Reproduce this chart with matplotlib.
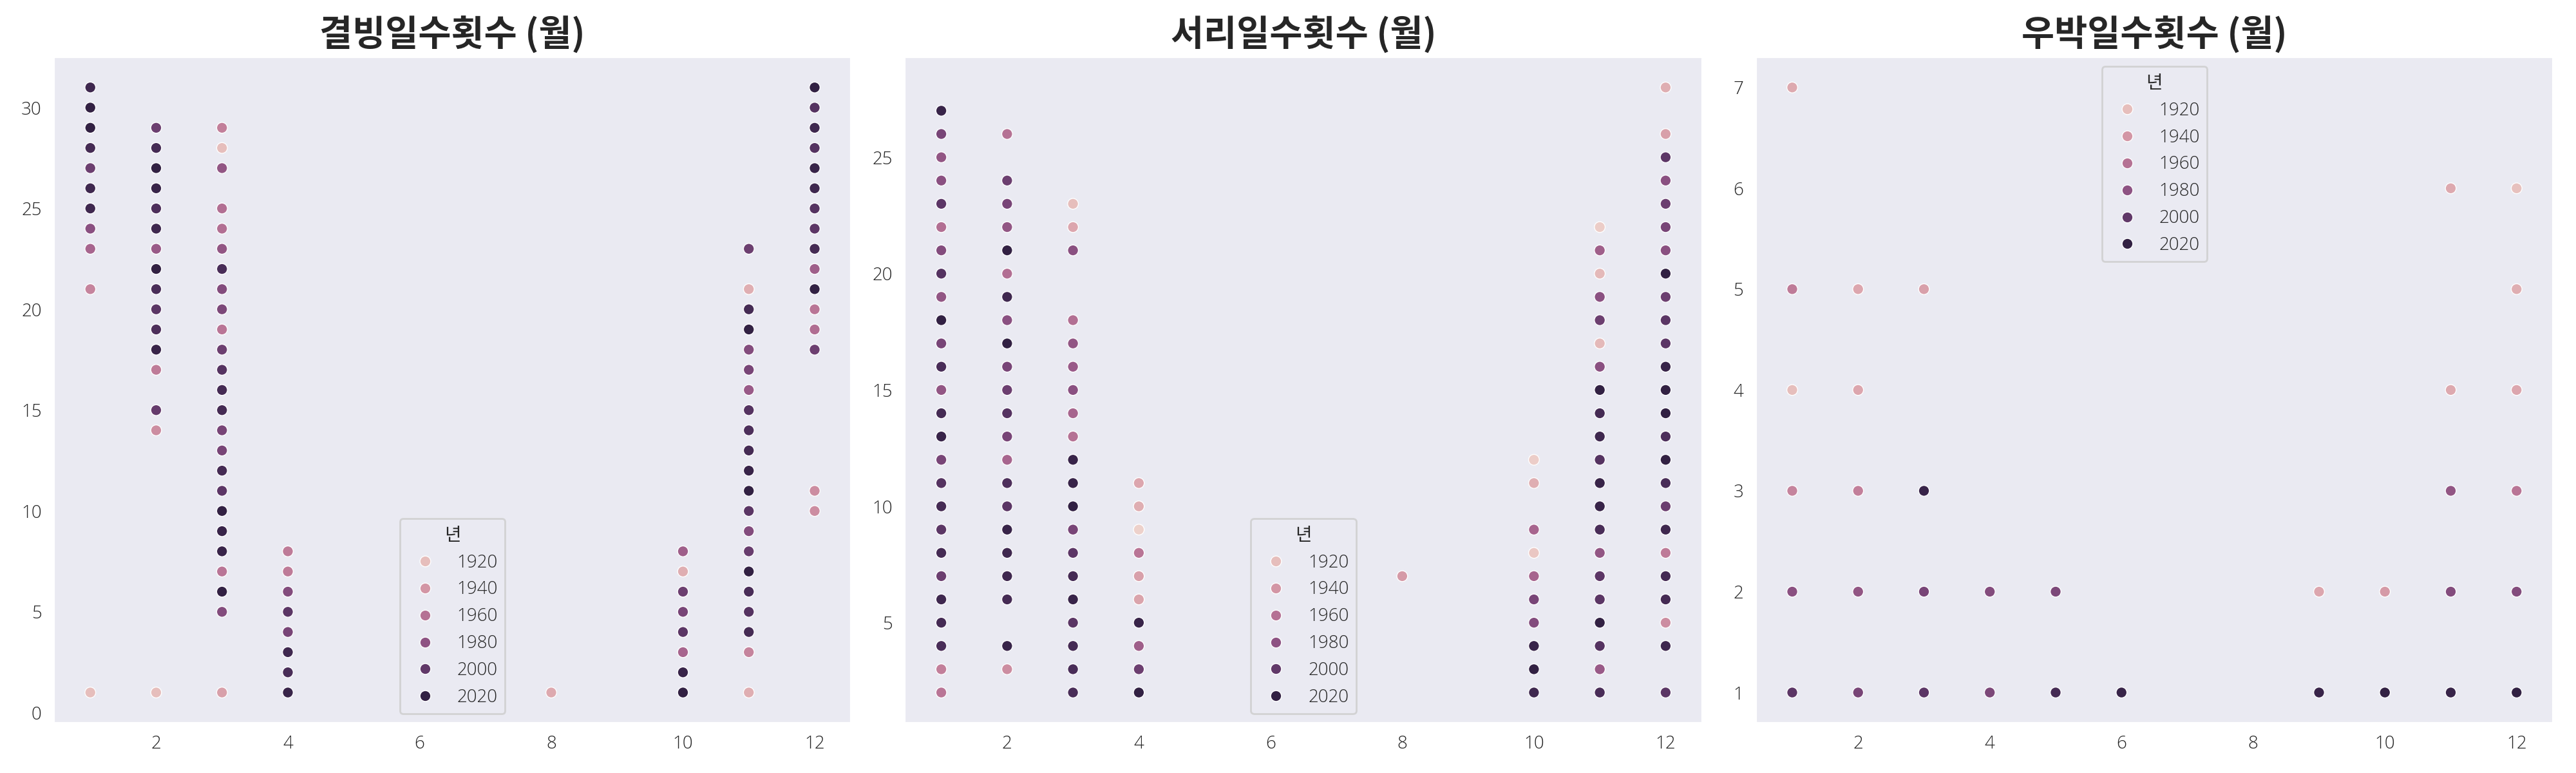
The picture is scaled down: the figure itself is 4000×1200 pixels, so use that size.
import matplotlib
matplotlib.use("Agg")
import matplotlib.pyplot as plt
import seaborn as sns
import pandas as pd

# ---------------- data ----------------
titles = ["결빙일수횟수 (월)", "서리일수횟수 (월)", "우박일수횟수 (월)"]

# Panel 1: 결빙
ice_month = ([1]*11 + [2]*16 + [3]*25 + [4]*8 + [8] + [10]*8 + [11]*21 + [12]*16)
ice_value = ([31, 30, 29, 28, 27, 26, 25, 24, 23, 21, 1] +
             [29, 28, 27, 26, 25, 24, 23, 22, 21, 20, 19, 18, 17, 15, 14, 1] +
             [29, 28, 27, 25, 24, 23, 22, 21, 20, 19, 18, 17, 16, 15, 14, 13, 12, 11, 10, 9, 8, 7, 6, 5, 1] +
             [8, 7, 6, 5, 4, 3, 2, 1] +
             [1] +
             [8, 7, 6, 5, 4, 3, 2, 1] +
             [23, 21, 20, 19, 18, 17, 16, 15, 14, 13, 12, 11, 10, 9, 8, 7, 6, 5, 4, 3, 1] +
             [31, 30, 29, 28, 27, 26, 25, 24, 23, 22, 21, 20, 19, 18, 11, 10])
ice_year = ([2015, 2020, 2020, 2012, 1995, 2015, 2015, 1982, 1968, 1950, 1920] +
            [1995, 2012, 2020, 2018, 2008, 2015, 1975, 2020, 2010, 2003, 2008, 2018, 1955, 1998, 1945, 1920] +
            [1952, 1920, 1978, 1962, 1962, 1978, 2010, 1985, 1988, 1958, 1995, 2005, 2012, 2012, 1990, 1990,
             2012, 2002, 2020, 2018, 2018, 1958, 2020, 1985, 1935] +
            [1955, 1955, 1985, 2003, 1990, 2015, 2010, 2018] +
            [1930] +
            [1972, 1928, 1995, 1990, 2003, 1968, 2018, 2020] +
            [1995, 1928, 2012, 2020, 1985, 1990, 1975, 2005, 2008, 2012, 2018, 2020, 2003, 1985, 1997, 2020,
             2010, 2005, 2012, 1950, 1928] +
            [2020, 2005, 2015, 2005, 2018, 2015, 2005, 2002, 2012, 1972, 2020, 1958, 1963, 1995, 1945, 1945])

# Panel 2: 서리
frost_month = ([1]*26 + [2]*22 + [3]*20 + [4]*10 + [8] + [10]*10 + [11]*21 + [12]*25)
frost_value = (list(range(27, 1, -1)) +
               [26, 24, 23, 22, 21, 20, 19, 18, 17, 16, 15, 14, 13, 12, 11, 10, 9, 8, 7, 6, 4, 3] +
               [23, 22, 21, 18, 17, 16, 15, 14, 13, 12, 11, 10, 9, 8, 7, 6, 5, 4, 3, 2] +
               [11, 10, 9, 8, 7, 6, 5, 4, 3, 2] +
               [7] +
               [12, 11, 9, 8, 7, 6, 5, 4, 3, 2] +
               list(range(22, 1, -1)) +
               [28, 26, 25, 24, 23, 22, 21, 20, 19, 18, 17, 16, 15, 14, 13, 12, 11, 10, 9, 8, 7, 6, 5, 4, 2])
frost_year = ([2018, 1990, 1978, 1982, 2002, 1962, 1985, 2005, 1978, 2020, 1990, 2010, 1978, 2012, 2018,
               1990, 2005, 2012, 2003, 2012, 1995, 2015, 2012, 2010, 1952, 1958] +
              [1960, 1995, 1990, 1978, 2020, 1962, 2015, 1982, 2020, 1990, 1995, 2005, 1990, 1968, 2008,
               2003, 2018, 2015, 2015, 2012, 2018, 1945] +
              [1920, 1932, 1982, 1962, 1978, 1975, 1982, 1968, 1960, 2018, 2018, 2020, 1990, 2002, 2012,
               2018, 2003, 2012, 2010, 2010] +
              [1932, 1928, 1910, 1958, 1935, 1933, 2018, 1972, 1995, 2020] +
              [1938] +
              [1912, 1928, 1968, 1915, 1968, 1990, 1985, 2018, 2020, 2015] +
              [1912, 1972, 1922, 1982, 1995, 1922, 1982, 2020, 2012, 2015, 2005, 2018, 2018, 2010, 1978,
               2002, 2003, 2020, 2005, 1975, 2010] +
              [1928, 1935, 2002, 1982, 1995, 1990, 1982, 2020, 1995, 2003, 2002, 2018, 2020, 2020, 2008,
               2020, 2010, 1995, 2015, 1955, 2012, 2012, 1945, 2015, 2003])

# Panel 3: 우박
hail_month = ([1]*6 + [2]*5 + [3]*4 + [4]*2 + [5]*2 + [6] + [9]*2 + [10]*2 + [11]*5 + [12]*6)
hail_value = ([7, 5, 4, 3, 2, 1] + [5, 4, 3, 2, 1] + [5, 3, 2, 1] + [2, 1] + [2, 1] + [1] +
              [2, 1] + [2, 1] + [6, 4, 3, 2, 1] + [6, 5, 4, 3, 2, 1])
hail_year = ([1930, 1955, 1920, 1950, 1982, 2002] + [1932, 1932, 1952, 1978, 1990] +
             [1935, 2018, 1990, 2002] + [1985, 1988] + [1988, 2012] + [2018] +
             [1932, 2018] + [1938, 2020] + [1930, 1930, 1978, 1985, 2018] +
             [1918, 1928, 1932, 1958, 1985, 2020])

panels = [
    (ice_month, ice_value, ice_year, "lower center"),
    (frost_month, frost_value, frost_year, "lower center"),
    (hail_month, hail_value, hail_year, "upper center"),
]

# ---------------- style ----------------
sns.set_style("dark")
plt.rcParams["font.family"] = ["Open Sans", "Noto Sans CJK KR", "DejaVu Sans"]
plt.rcParams["axes.unicode_minus"] = False

fig, axes = plt.subplots(1, 3, figsize=(20, 6), dpi=200)

for ax, title, (m, v, y, loc) in zip(axes, titles, panels):
    df = pd.DataFrame({"월": m, "값": v, "년": y})
    sns.scatterplot(data=df, x="월", y="값", hue="년", hue_norm=(1910, 2023), ax=ax)
    ax.set_title(title, fontsize=20, fontweight="bold",
                 family=["Noto Sans CJK KR", "DejaVu Sans"])
    ax.set_xlabel("")
    ax.set_ylabel("")
    ax.set_xticks([2, 4, 6, 8, 10, 12])
    for lab in ax.get_xticklabels() + ax.get_yticklabels():
        lab.set_fontweight("light")
    sns.move_legend(ax, loc, title="년")
    leg = ax.get_legend()
    leg.get_title().set_family(["Noto Sans CJK KR", "DejaVu Sans"])
    for t in leg.get_texts():
        t.set_fontweight("light")

fig.subplots_adjust(left=0.021, right=0.991, top=0.926, bottom=0.065, wspace=0.068)
fig.savefig("out.png", dpi=200)
